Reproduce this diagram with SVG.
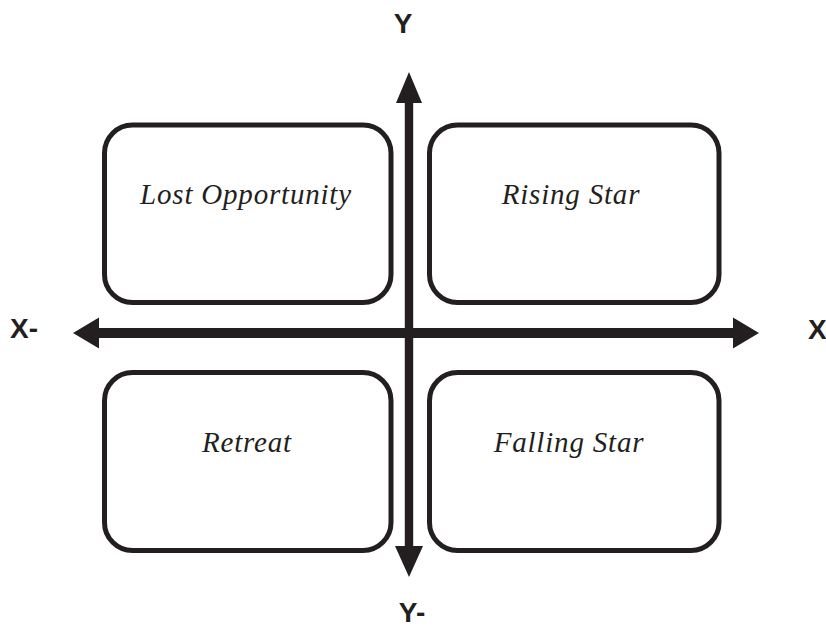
<svg xmlns="http://www.w3.org/2000/svg" width="826" height="630" viewBox="0 0 826 630">
<style>
.box{fill:#fff;stroke:#231f20;stroke-width:5}
.lbl{font-family:"Liberation Serif",serif;font-style:italic;font-size:29px;letter-spacing:0.8px;fill:#231f20;text-anchor:middle}
.ax{font-family:"Liberation Sans",Arial,sans-serif;font-weight:bold;font-size:28px;fill:#231f20}
.arr{fill:#231f20}
</style>
<rect width="826" height="630" fill="#fff"/>
<g id="lost-opportunity"><rect class="box" x="104.5" y="125" width="286.5" height="177.5" rx="28"/><text class="lbl" x="246" y="204">Lost Opportunity</text></g>
<g id="rising-star"><rect class="box" x="429.5" y="125" width="289.5" height="177.5" rx="28"/><text class="lbl" x="571" y="204">Rising Star</text></g>
<g id="retreat"><rect class="box" x="104.5" y="372.5" width="286.5" height="178" rx="28"/><text class="lbl" x="247" y="452">Retreat</text></g>
<g id="falling-star"><rect class="box" x="429.5" y="372.5" width="289.5" height="178" rx="28"/><text class="lbl" x="569" y="452">Falling Star</text></g>
<g id="axes">
<polygon class="arr" points="73,333 99,317.5 99,328 733,328 733,317.5 759,333 733,348.5 733,338 99,338 99,348.5"/>
<polygon class="arr" points="409,72 422,103 413.2,103 413.2,546 423,546 409,577 395,546 404.8,546 404.8,103 396,103"/>
</g>
<g id="axis-labels">
<text class="ax" x="403" y="33" text-anchor="middle">Y</text>
<text class="ax" x="10" y="338">X-</text>
<text class="ax" x="808" y="339">X</text>
<text class="ax" x="412" y="622" text-anchor="middle">Y-</text>
</g>
</svg>
